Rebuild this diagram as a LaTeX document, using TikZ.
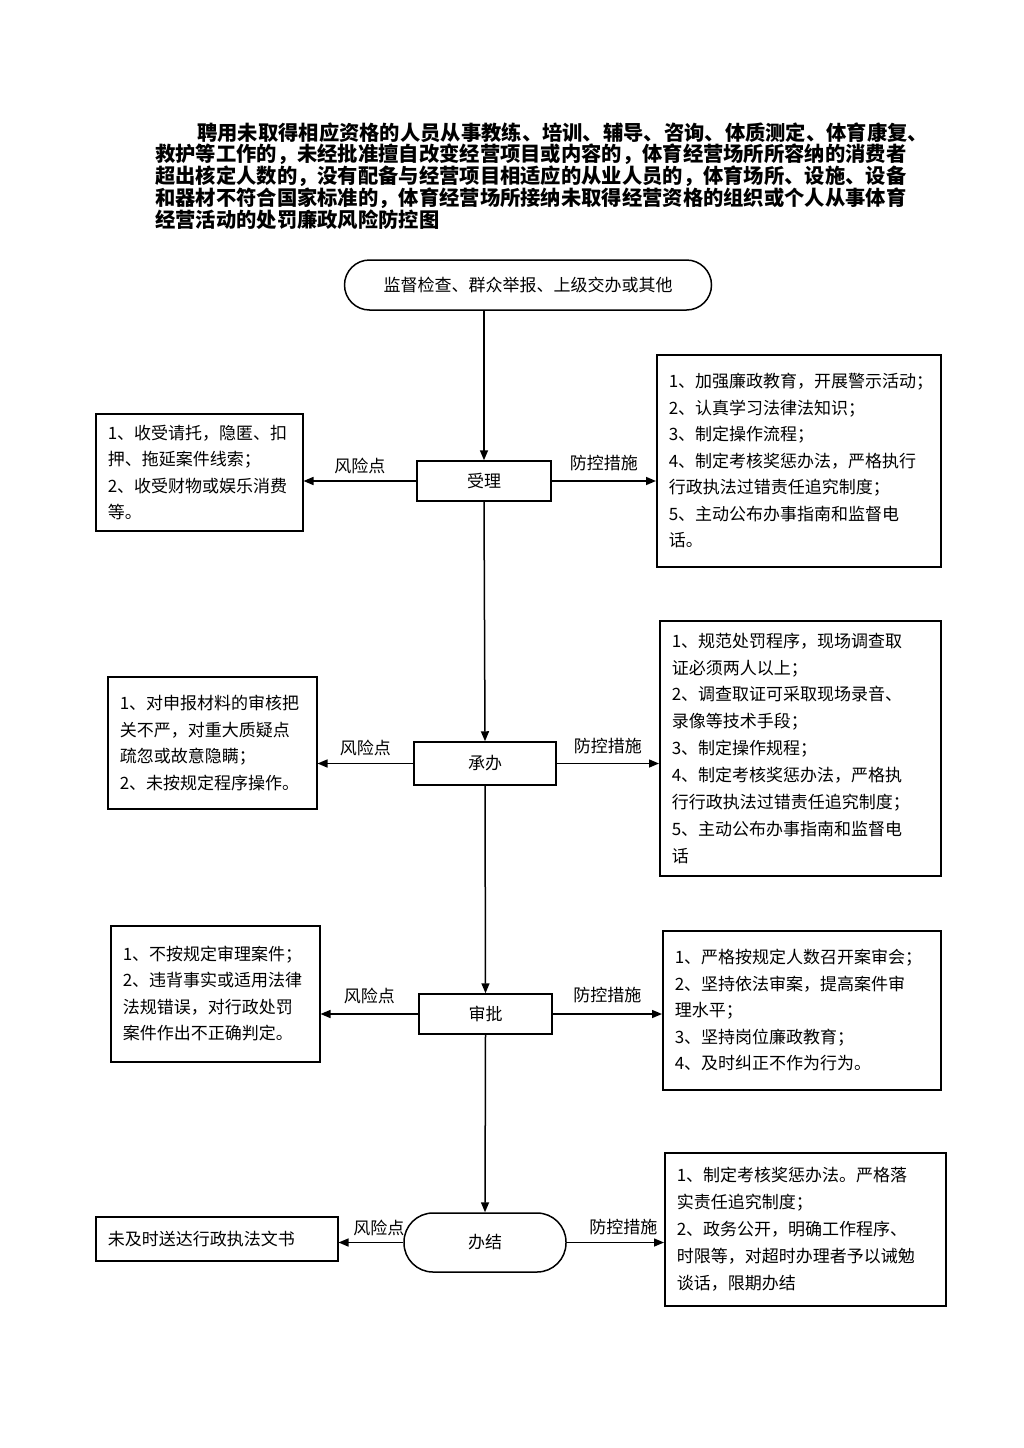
\documentclass[tikz,border=0pt]{standalone}
\usepackage{fontspec}
\newfontfamily\cjk{Noto Sans CJK SC}
\usetikzlibrary{arrows.meta,calc}
\begin{document}
\begin{tikzpicture}[x=1pt,y=-1pt,
  box/.style={draw, line width=1.5pt, rectangle, font={\cjk\fontsize{17}{26.5}\selectfont}, align=left, inner xsep=12pt, inner ysep=0pt, anchor=north west},
  stepnode/.style={draw, line width=1.5pt, font={\cjk\fontsize{17}{20}\selectfont}},
  arr/.style={line width=1.5pt, -{Triangle[length=10pt,width=8pt]}},
  lbl/.style={font={\cjk\fontsize{17}{20}\selectfont}, inner sep=1pt},
]
\useasboundingbox (0,0) rectangle (1024,1448);
\fill[white] (0,0) rectangle (1024,1448);

% title
\node[anchor=north west, inner sep=0pt, align=left, font={\cjk\bfseries\fontsize{20.3}{20.75}\selectfont}] (title) at (155,123)
{\hspace*{42pt}聘用未取得相应资格的人员从事教练、培训、辅导、咨询、体质测定、体育康复、\\
救护等工作的，未经批准擅自改变经营项目或内容的，体育经营场所所容纳的消费者\\
超出核定人数的，没有配备与经营项目相适应的从业人员的，体育场所、设施、设备\\
和器材不符合国家标准的，体育经营场所接纳未取得经营资格的组织或个人从事体育\\
经营活动的处罚廉政风险防控图};

% flow nodes
\node[stepnode, rounded corners=25pt, minimum width=367pt, minimum height=50pt] (src) at (528,285) {监督检查、群众举报、上级交办或其他};
\node[stepnode, minimum width=134pt, minimum height=40pt] (s1) at (484,481) {受理};
\node[stepnode, minimum width=142pt, minimum height=43pt] (s2) at (485,763.5) {承办};
\node[stepnode, minimum width=133pt, minimum height=40pt] (s3) at (485.5,1014) {审批};
\node[stepnode, rounded corners=29pt, minimum width=162pt, minimum height=59pt] (s4) at (485,1242.5) {办结};

% left boxes
\node[box, text width=183pt, minimum height=117pt] (L1) at (95,413)
{1、收受请托，隐匿、扣\\押、拖延案件线索；\\2、收受财物或娱乐消费\\等。};
\node[box, text width=185pt, minimum height=132pt] (L2) at (107,676)
{1、对申报材料的审核把\\关不严，对重大质疑点\\疏忽或故意隐瞒；\\2、未按规定程序操作。};
\node[box, text width=185pt, minimum height=136pt] (L3) at (110,925)
{1、不按规定审理案件；\\2、违背事实或适用法律\\法规错误，对行政处罚\\案件作出不正确判定。\\[-6pt]};
\node[box, text width=218pt, minimum height=44pt] (L4) at (95,1216)
{未及时送达行政执法文书};

% right boxes
\node[box, text width=260pt, minimum height=212pt] (R1) at (656,354)
{1、加强廉政教育，开展警示活动；\\2、认真学习法律法知识；\\3、制定操作流程；\\4、制定考核奖惩办法，严格执行\\行政执法过错责任追究制度；\\5、主动公布办事指南和监督电\\话。};
\node[box, text width=257pt, minimum height=255pt, font={\cjk\fontsize{17}{26.9}\selectfont}] (R2) at (659,620)
{1、规范处罚程序，现场调查取\\证必须两人以上；\\2、调查取证可采取现场录音、\\录像等技术手段；\\3、制定操作规程；\\4、制定考核奖惩办法，严格执\\行行政执法过错责任追究制度；\\5、主动公布办事指南和监督电\\话};
\node[box, text width=254pt, minimum height=159pt] (R3) at (662,930)
{1、严格按规定人数召开案审会；\\2、坚持依法审案，提高案件审\\理水平；\\3、坚持岗位廉政教育；\\4、及时纠正不作为行为。};
\node[box, text width=257pt, minimum height=153pt, font={\cjk\fontsize{17}{27.2}\selectfont}] (R4) at (664,1152)
{1、制定考核奖惩办法。严格落\\实责任追究制度；\\2、政务公开，明确工作程序、\\时限等，对超时办理者予以诫勉\\谈话，限期办结};

% vertical flow
\draw[arr] (s1.north |- src.south) -- (s1.north);
\draw[arr] (s1.south) -- (s2.north);
\draw[arr] (s2.south) -- (s3.north);
\draw[arr] (s3.south) -- (s4.north);

% side arrows
\draw[arr] (s1.west) -- (s1.west -| L1.east) node[lbl, midway, above=5pt] {风险点};
\draw[arr] (s1.east) -- (s1.east -| R1.west) node[lbl, midway, above=8pt] {防控措施};
\draw[arr] (s2.west) -- (s2.west -| L2.east) node[lbl, midway, above=6pt] {风险点};
\draw[arr] (s2.east) -- (s2.east -| R2.west) node[lbl, midway, above=8pt] {防控措施};
\draw[arr] (s3.west) -- (s3.west -| L3.east) node[lbl, midway, above=8pt] {风险点};
\draw[arr] (s3.east) -- (s3.east -| R3.west) node[lbl, midway, above=9pt] {防控措施};
\draw[arr] (s4.west) -- (s4.west -| L4.east) node[lbl, midway, above=5pt, xshift=8pt] {风险点};
\draw[arr] (s4.east) -- (s4.east -| R4.west) node[lbl, midway, above=6pt, xshift=8pt] {防控措施};
\end{tikzpicture}
\end{document}
